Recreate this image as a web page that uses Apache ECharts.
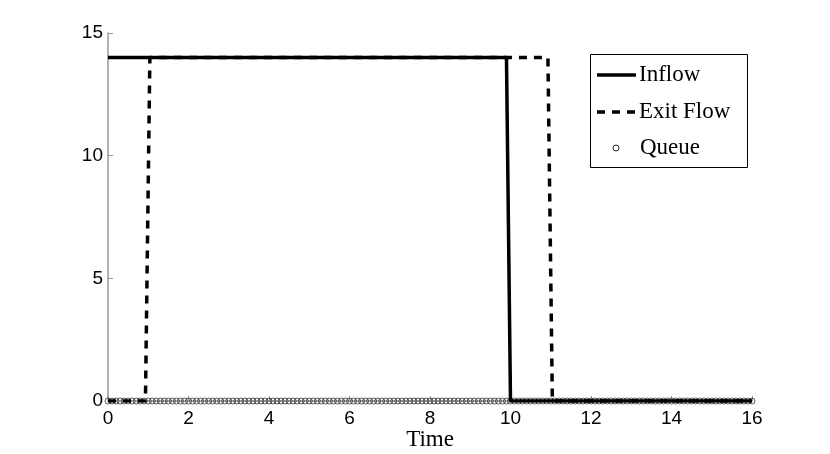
<!DOCTYPE html>
<html>
<head>
<meta charset="utf-8">
<script src="https://cdn.jsdelivr.net/npm/echarts@6/dist/echarts.min.js"></script>
<style>html,body{margin:0;padding:0;background:#fff;overflow:hidden}#c{width:830px;height:454px}</style>
</head>
<body>
<div id="c"></div>
<script>
var inflowT = [0, 9.9, 10.0, 16];
var inflowV = [14, 14, 0, 0];
var exitT = [0, 0.93, 1.04, 10.93, 11.04, 16];
var exitV = [0, 0, 14, 14, 0, 0];
var queueT = [];
for (var i = 0; i <= 160; i++) queueT.push(+(i * 0.1).toFixed(1));
var queueV = queueT.map(function () { return 0; });
var xTicks = [0, 2, 4, 6, 8, 10, 12, 14, 16];
var yTicks = [0, 5, 10, 15];
var legendNames = ['Inflow', 'Exit Flow', 'Queue'];

function zip(a, b) { return a.map(function (v, i) { return [v, b[i]]; }); }

var serif = 'Liberation Serif';
var legendFont = { fontFamily: serif, fontSize: 23, fill: '#000' };

var chart = echarts.init(document.getElementById('c'));
chart.setOption({
  animation: false,
  backgroundColor: '#fff',
  grid: { left: 108, right: 78, top: 33, bottom: 53, containLabel: false, outerBoundsMode: 'none' },
  xAxis: {
    type: 'value', min: xTicks[0], max: xTicks[xTicks.length - 1], interval: 2,
    name: 'Time', nameLocation: 'middle', nameGap: 27, nameMoveOverlap: false,
    nameTextStyle: { fontFamily: serif, fontSize: 23, color: '#000' },
    axisLine: { show: true, onZero: false, lineStyle: { color: '#999', width: 1.5 } },
    axisTick: { show: true, inside: true, length: 5, lineStyle: { color: '#999' } },
    axisLabel: { fontFamily: 'Liberation Sans', fontSize: 19, color: '#000', margin: 8 },
    splitLine: { show: false }
  },
  yAxis: {
    type: 'value', min: yTicks[0], max: yTicks[yTicks.length - 1], interval: 5,
    axisLine: { show: true, lineStyle: { color: '#999', width: 1.5 } },
    axisTick: { show: true, inside: true, length: 5, lineStyle: { color: '#999' } },
    axisLabel: { fontFamily: 'Liberation Sans', fontSize: 19, color: '#000', margin: 5 },
    splitLine: { show: false }
  },
  graphic: [
    { type: 'rect', left: 590, top: 54, z: 100,
      shape: { width: 157, height: 113 },
      style: { fill: '#fff', stroke: '#000', lineWidth: 1 } },
    { type: 'line', z: 101, shape: { x1: 597, y1: 75, x2: 636, y2: 75 },
      style: { stroke: '#000', lineWidth: 3.5 } },
    { type: 'line', z: 101, shape: { x1: 597, y1: 112, x2: 636, y2: 112 },
      style: { stroke: '#000', lineWidth: 3.5, lineDash: [8, 7] } },
    { type: 'circle', z: 101, shape: { cx: 616, cy: 148, r: 3 },
      style: { fill: 'none', stroke: '#222', lineWidth: 1 } },
    { type: 'text', z: 101, x: 639, y: 75, style: Object.assign({ text: legendNames[0], verticalAlign: 'middle' }, legendFont) },
    { type: 'text', z: 101, x: 639, y: 112, style: Object.assign({ text: legendNames[1], verticalAlign: 'middle' }, legendFont) },
    { type: 'text', z: 101, x: 640, y: 148, style: Object.assign({ text: legendNames[2], verticalAlign: 'middle' }, legendFont) }
  ],
  series: [
    {
      name: legendNames[2], type: 'scatter', z: 1,
      symbol: 'circle', symbolSize: 6,
      itemStyle: { color: 'rgba(0,0,0,0)', borderColor: '#222', borderWidth: 0.9 },
      data: zip(queueT, queueV)
    },
    {
      name: legendNames[0], type: 'line', z: 3, symbol: 'none',
      lineStyle: { color: '#000', width: 3.5, type: 'solid' },
      data: zip(inflowT, inflowV)
    },
    {
      name: legendNames[1], type: 'line', z: 2, symbol: 'none',
      lineStyle: { color: '#000', width: 3.5, type: [8, 7] },
      data: zip(exitT, exitV)
    }
  ]
});
</script>
</body>
</html>
